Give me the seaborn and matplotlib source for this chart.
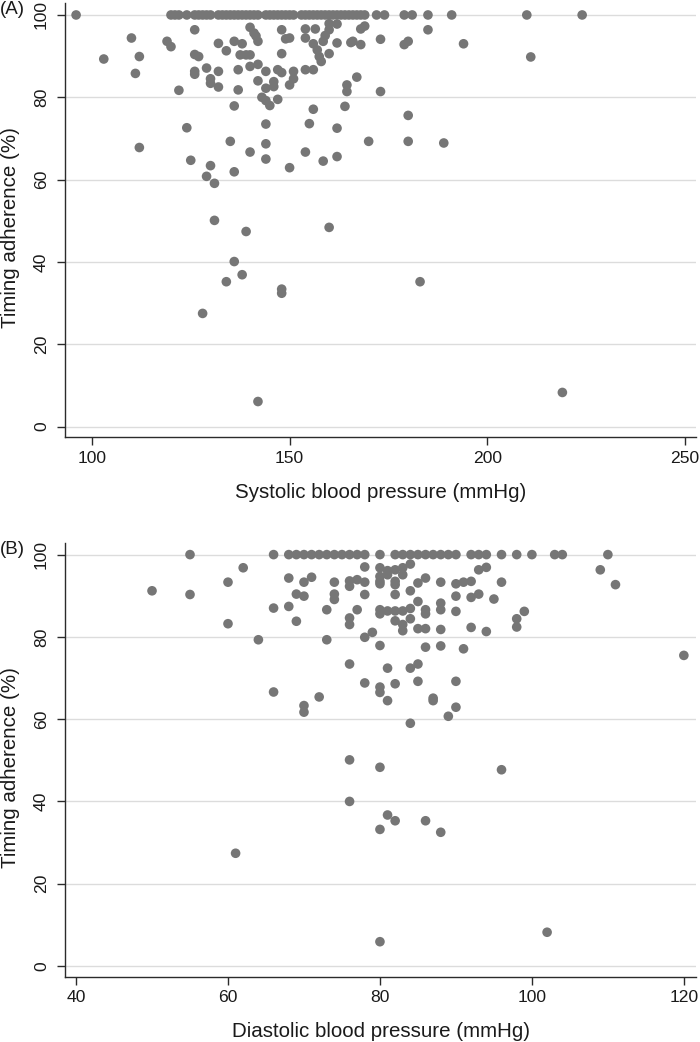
import pandas as pd
import seaborn as sns
import matplotlib.pyplot as plt

# panel A: systolic blood pressure vs timing adherence
sbp_full = [96, 120, 121, 122, 124, 126, 127, 128, 129, 130, 132, 133, 134, 135, 136,
            137, 138, 139, 140, 141, 142, 144, 145, 146, 147, 148, 149, 150, 151,
            153, 154, 155, 156, 157, 158, 159, 160, 161, 162, 163, 164, 165, 166,
            167, 168, 169, 172, 174, 179, 181, 185, 191, 210, 224]
sbp = [103, 110, 112, 111, 112, 119, 120, 122, 124, 125, 126, 126, 127, 126, 126,
       129, 130, 130, 132, 132, 132, 134, 130, 129, 131, 131, 136, 138, 140, 141,
       141.5, 142, 137.5, 139, 140, 140, 137, 137, 136, 135, 136, 140, 142, 142,
       144, 144, 143, 144, 145, 147, 146, 146, 144, 144, 144, 148, 149, 150, 148,
       147, 148, 151, 151, 150, 150, 139, 154, 154, 156.5, 154, 156, 156, 155,
       154, 156, 157, 157.5, 158, 160, 160, 159, 158.5, 160, 162, 164, 162, 162,
       158.5, 160, 164.5, 164.5, 165.5, 162, 168, 169, 185, 173, 166, 168, 179,
       180, 194, 211, 167, 173, 180, 170, 180, 189, 136, 134, 138, 148, 148, 128,
       142, 183, 219]
adh_a = [89.3, 94.4, 89.9, 85.8, 67.8, 93.6, 92.3, 81.7, 72.6, 64.7, 96.4, 90.4,
         89.9, 86.3, 85.6, 87.1, 84.5, 83.4, 86.3, 82.5, 93.1, 91.3, 63.4, 60.8,
         59.1, 50.1, 93.6, 93.0, 97.0, 95.6, 94.9, 93.6, 90.3, 90.3, 90.3, 87.5,
         86.7, 81.8, 77.9, 69.3, 61.9, 66.7, 88.0, 84.0, 86.3, 82.2, 80.0, 79.2,
         78.0, 79.5, 83.8, 82.6, 73.5, 68.7, 65.0, 96.4, 94.2, 94.4, 90.6, 86.7,
         86.0, 86.3, 84.5, 83.0, 62.9, 47.4, 96.6, 94.4, 96.6, 86.7, 86.7, 77.1,
         73.6, 66.7, 93.0, 91.5, 89.9, 88.7, 97.9, 96.4, 95.0, 93.6, 90.6, 93.2,
         77.8, 72.5, 65.6, 64.5, 48.4, 83.0, 81.4, 93.3, 97.8, 96.6, 97.3, 96.4,
         94.1, 93.6, 92.8, 92.8, 93.6, 93.0, 89.8, 84.9, 81.4, 75.6, 69.3, 69.3,
         68.9, 40.1, 35.2, 36.9, 33.4, 32.4, 27.5, 6.1, 35.2, 8.3]

# panel B: diastolic blood pressure vs timing adherence
dbp_full = [55, 66, 68, 69, 70, 71, 72, 73, 74, 75, 76, 77, 78, 80, 82, 83, 84, 85,
            86, 87, 88, 89, 90, 92, 93, 94, 96, 98, 100, 103, 104, 110]
dbp = [50, 55, 60, 60, 62, 64, 66, 66, 68, 68, 69, 69, 70, 70, 71, 70, 70, 72, 73,
       73, 74, 74, 74, 76, 76, 76, 76, 76, 76, 78, 80, 81, 82, 83, 84, 80, 81, 83,
       77, 78, 80, 80, 82, 82, 85, 86, 88, 90, 91, 92, 96, 93, 94, 109, 111, 78,
       82, 84, 85, 90, 92, 93, 95, 77, 80, 80, 81, 82, 83, 84, 86, 86, 88, 88, 90,
       99, 98, 98, 82, 83, 83, 84, 85, 86, 88, 92, 94, 78, 79, 80, 86, 88, 91, 120,
       81, 84, 85, 78, 80, 80, 82, 85, 90, 81, 87, 87, 90, 89, 84, 80, 96, 61, 76,
       81, 82, 80, 86, 88, 80, 102]
adh_b = [91.2, 90.3, 93.3, 83.2, 96.8, 79.3, 87.0, 66.6, 94.3, 87.4, 83.8, 90.4,
         89.9, 93.3, 94.5, 63.3, 61.7, 65.4, 86.6, 79.3, 93.3, 90.4, 89.1, 93.6,
         92.3, 84.6, 83.0, 73.4, 50.1, 97.0, 96.8, 96.1, 96.3, 96.8, 97.7, 94.7,
         95.1, 95.1, 93.9, 93.3, 93.5, 92.9, 93.5, 92.7, 93.1, 94.3, 93.3, 92.9,
         93.3, 93.5, 93.3, 96.3, 96.9, 96.3, 92.7, 90.3, 90.3, 91.2, 88.6, 89.9,
         89.6, 90.4, 89.2, 86.6, 86.6, 85.6, 86.3, 86.3, 86.3, 86.9, 86.6, 85.6,
         88.2, 86.6, 86.2, 86.2, 84.4, 82.4, 83.9, 83.0, 81.5, 84.4, 82.0, 82.0,
         81.8, 82.3, 81.3, 79.9, 81.1, 77.9, 77.5, 77.8, 77.1, 75.5, 72.4, 72.4,
         73.4, 68.8, 67.8, 66.5, 68.6, 69.2, 69.2, 64.5, 65.1, 64.5, 62.9, 60.7,
         59.0, 48.3, 47.7, 27.4, 40.0, 36.7, 35.3, 33.2, 35.3, 32.5, 5.9, 8.2]

df_a = pd.DataFrame({"bp": sbp_full + sbp, "adh": [100] * len(sbp_full) + adh_a})
df_b = pd.DataFrame({"bp": dbp_full + dbp, "adh": [100] * len(dbp_full) + adh_b})

sns.set_style("white")
plt.rcParams["font.family"] = ["Liberation Sans", "DejaVu Sans"]

dot = "#767676"
fig = plt.figure(figsize=(7, 10.42), dpi=100)
ax_a = fig.add_axes([0.0929, 0.5803, 0.9014, 0.4168])
ax_b = fig.add_axes([0.0929, 0.0627, 0.9014, 0.4165])

panels = [
    (ax_a, df_a, (93.2, 252.8), [100, 150, 200, 250], "Systolic blood pressure (mmHg)", "(A)"),
    (ax_b, df_b, (38.55, 121.6), [40, 60, 80, 100, 120], "Diastolic blood pressure (mmHg)", "(B)"),
]
for ax, df, xlim, xt, xlab, tag in panels:
    for v in [0, 20, 40, 60, 80, 100]:
        ax.axhline(v, color="#dcdcdc", lw=1.0, zorder=0)
    sns.scatterplot(data=df, x="bp", y="adh", ax=ax, color=dot, s=48,
                    edgecolor="none", linewidth=0, zorder=3)
    ax.set_xlim(*xlim)
    ax.set_ylim(-2.6, 102.9)
    ax.set_xticks(xt)
    ax.set_yticks([0, 20, 40, 60, 80, 100])
    sns.despine(ax=ax)
    for s in ["left", "bottom"]:
        ax.spines[s].set_color("#2b2b2b")
        ax.spines[s].set_linewidth(1.0)
    ax.tick_params(axis="both", direction="out", length=5.5, width=1.0,
                   bottom=True, left=True,
                   color="#2b2b2b", labelsize=12.6, labelcolor="#1a1a1a", pad=4)
    ax.tick_params(axis="y", labelrotation=90, pad=6)
    for lbl in ax.get_yticklabels():
        lbl.set_va("center")
    ax.set_xlabel(xlab, fontsize=14.8, color="#1a1a1a")
    ax.set_ylabel("Timing adherence (%)", fontsize=14.8, color="#1a1a1a")
    ax.xaxis.set_label_coords(0.5, -0.105)
    ax.yaxis.set_label_coords(-0.071, 0.482)
    ax.grid(False)
    ax.text(-0.1025, 0.985, tag, transform=ax.transAxes, fontsize=13.5,
            color="#1a1a1a", ha="left", va="center")

fig.savefig("out.png", dpi=100)
